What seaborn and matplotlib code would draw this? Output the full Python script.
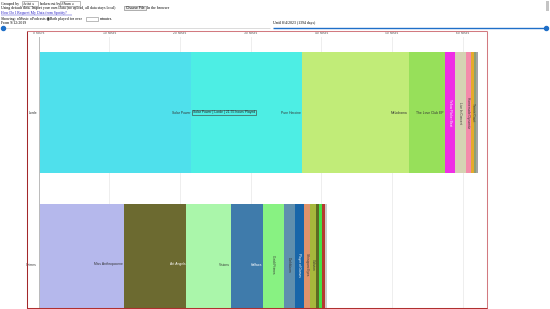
import matplotlib
matplotlib.use("Agg")
import matplotlib.pyplot as plt
import seaborn as sns
import pandas as pd
from matplotlib.patches import Rectangle
from matplotlib.lines import Line2D

# ---------------- data ----------------
artists = ["Lorde", "Grimes"]

lorde_albums = ["Solar Power", "Pure Heroine", "Melodrama", "The Love Club EP",
                "Yellow Flicker Beat", "Live In Concert", "Homemade Dynamite",
                "Tennis Court", "Royals", "Green Light"]
lorde_hours = [21.55, 15.7, 15.1, 5.1, 1.5, 1.45, 0.75, 0.5, 0.28, 0.28]

grimes_albums = ["Miss Anthropocene", "Art Angels", "Visions", "Halfaxa",
                 "Geidi Primes", "Darkbloom", "Player of Games", "Shinigami Eyes",
                 "Oblivion", "Violence", "4ÆM", "Delete Forever", "Genesis"]
grimes_hours = [12.1, 8.75, 6.35, 4.5, 3.0, 1.5, 1.3, 0.95, 0.8, 0.45, 0.4, 0.45, 0.25]

x_ticks = [0, 10, 20, 30, 40, 50, 60]
x_tick_labels = [f"{t} hours" for t in x_ticks]

tooltip_album = "Solar Power"

# ---------------- styles ----------------
lorde_colors = ["#4fe0ec", "#4deee4", "#c1ec78", "#97e05a", "#ef2ee6", "#d5d3b3",
                "#f48aab", "#e5aa2c", "#8e9f72", "#a3a3a3"]
grimes_colors = ["#b5b8ec", "#6c6a30", "#aaf6aa", "#3f7bab", "#88f282", "#5f8fae",
                 "#1866a9", "#e0936b", "#a7b83c", "#5d6a22", "#46e046", "#b43a30",
                 "#cccccc"]

rows = []
for a, albums, hours in [("Lorde", lorde_albums, lorde_hours),
                         ("Grimes", grimes_albums, grimes_hours)]:
    for al, h in zip(albums, hours):
        rows.append({"artist": a, "album": al, "hours": h})
df = pd.DataFrame(rows)
df["end"] = df.groupby("artist")["hours"].cumsum()
df["start"] = df["end"] - df["hours"]
color_map = dict(zip(lorde_albums, lorde_colors))
color_map.update(dict(zip(grimes_albums, grimes_colors)))

W, H = 550, 309
fig = plt.figure(figsize=(W / 100, H / 100), dpi=100)
fig.patch.set_facecolor("white")


def fx(x):
    return x / W


def fy(y):
    return 1 - y / H


# axes geometry (pixels)
ax_l, ax_r, ax_t, ax_b = 38.7, 486.0, 37.0, 309.0
px_per_hour = 7.067
px_per_cat = 152.0
cat0_y = 112.5

ax = fig.add_axes([fx(ax_l), fy(ax_b), (ax_r - ax_l) / W, (ax_b - ax_t) / H])
ax.set_facecolor("white")

# stacked bars via overlapping cumulative seaborn bars
for artist in artists:
    sub = df[df["artist"] == artist]
    for i in range(len(sub) - 1, -1, -1):
        seg = sub.iloc[[i]]
        sns.barplot(data=seg, x="end", y="artist", order=artists, orient="y",
                    color=color_map[seg["album"].iloc[0]], saturation=1,
                    width=0.8, errorbar=None, linewidth=0, edgecolor="none",
                    ax=ax)

ax.set_xlim(0, (ax_r - ax_l) / px_per_hour)
ax.set_ylim((ax_b - cat0_y) / px_per_cat, -(cat0_y - ax_t) / px_per_cat)
ax.set_xlabel("")
ax.set_ylabel("")

ax.set_xticks(x_ticks)
ax.set_xticklabels(x_tick_labels)
ax.xaxis.tick_top()
ax.tick_params(axis="x", length=0, pad=1.4, labelsize=2.4, labelcolor="#555555")
ax.tick_params(axis="y", length=0, pad=1.2, labelsize=2.4, labelcolor="#333333")
for lab in ax.get_xticklabels() + ax.get_yticklabels():
    lab.set_family("Liberation Sans")
ax.set_axisbelow(True)
ax.grid(axis="x", color="#ebebeb", lw=0.6)
ax.grid(axis="y", visible=False)
for s in ["top", "right", "bottom"]:
    ax.spines[s].set_visible(False)
ax.spines["left"].set_color("#bbbbbb")
ax.spines["left"].set_linewidth(0.7)


def lum(c):
    r, g, b = matplotlib.colors.to_rgb(c)
    return 0.299 * r + 0.587 * g + 0.114 * b


# segment labels
for _, r in df.iterrows():
    yi = artists.index(r["artist"])
    wpx = r["hours"] * px_per_hour
    tc = "white" if lum(color_map[r["album"]]) < 0.5 else "#333333"
    txt = r["album"]
    if len(txt) * 1.75 + 4 < wpx:
        ax.text(r["end"] - 0.12, yi, txt, ha="right", va="center", fontsize=2.4,
                color=tc, family="Liberation Sans")
    elif wpx >= 3.5:
        ax.text(r["end"] - r["hours"] / 2, yi, txt, ha="center", va="center",
                rotation=-90, fontsize=2.3, color=tc, family="Liberation Sans")

# tooltip
tip = df[df["album"] == tooltip_album].iloc[0]
ax.text(tip["end"] + 0.3, artists.index(tip["artist"]),
        f"{tip['album']} | {tip['artist']} | {tip['hours']:.2f} hours Played",
        ha="left", va="center", fontsize=2.4, color="#222222",
        family="Liberation Sans",
        bbox=dict(boxstyle="square,pad=0.25", fc="none", ec="#444444", lw=0.45))

# ---------------- page chrome ----------------
serif = ["Liberation Serif", "DejaVu Sans"]
fs = 2.8


def ftext(x, y, s, **kw):
    kw.setdefault("fontsize", fs)
    kw.setdefault("family", serif)
    kw.setdefault("va", "center")
    kw.setdefault("color", "black")
    fig.text(fx(x), fy(y), s, **kw)


def frect(x0, y0, x1, y1, fc="white", ec="#888888", lw=0.4):
    fig.add_artist(Rectangle((fx(x0), fy(y1)), (x1 - x0) / W, (y1 - y0) / H,
                             transform=fig.transFigure, fc=fc, ec=ec, lw=lw))


def fline(x0, y0, x1, y1, color, lw):
    fig.add_artist(Line2D([fx(x0), fx(x1)], [fy(y0), fy(y1)],
                          transform=fig.transFigure, color=color, lw=lw,
                          solid_capstyle="butt"))


# line 1
ftext(1, 3.5, "Grouped by")
frect(22, 1.0, 37.5, 6.2)
ftext(23, 3.6, "Artist \u2228", fontsize=2.5)
ftext(39, 3.5, "broken out by")
frect(60, 1.0, 80, 6.2)
ftext(61, 3.6, "Album \u2228", fontsize=2.5)
# line 2
ftext(1, 8.0, "Using default data. Import your own Data (no upload, all data stays local)")
frect(124.3, 5.8, 145.7, 10.2, fc="#efefef", ec="#777777")
ftext(125.5, 8.0, "Choose File", fontsize=2.5, family=["Liberation Sans"])
ftext(147, 8.0, "In the browser")
# line 3 (link)
ftext(1, 13.3, "How Do I Request My Data from Spotify?", color="#2a22c8")
fline(1, 15.0, 71.5, 15.0, "#2a22c8", 0.3)
# line 4
ftext(1, 18.7, "Showing: \u25cbMusic \u25cbPodcasts \u25c9Both played for over")
frect(85.5, 16.8, 98, 21.0)
ftext(99.5, 18.7, "minutes.")
# line 5
ftext(1, 23.2, "From 9/12/2019")
ftext(273, 23.4, "Until 8/4/2023 (1394 days)")

# sliders
fline(3, 28.2, 270, 28.2, "#d6d6d6", 0.6)
fline(273, 28.2, 545.5, 28.2, "#1f6fc8", 1.0)
fig.add_artist(Line2D([fx(3.4)], [fy(28.2)], transform=fig.transFigure,
                      marker="o", markersize=2.9, color="#1f6fc8", lw=0))
fig.add_artist(Line2D([fx(545.5)], [fy(28.2)], transform=fig.transFigure,
                      marker="o", markersize=2.9, color="#1f6fc8", lw=0))

# scrollbar thumb
frect(546.2, 1.5, 549.3, 11, fc="#c4c4c4", ec="none", lw=0)

# red border box
fline(26.5, 31.0, 486.7, 31.0, "#d27a80", 0.75)
fline(486.7, 31.0, 486.7, 309, "#d27a80", 0.75)
fline(26.5, 31.0, 26.5, 309, "#a3282b", 0.75)
fline(26.5, 308.3, 486.7, 308.3, "#b0302f", 0.75)

fig.savefig("out.png", dpi=100)
